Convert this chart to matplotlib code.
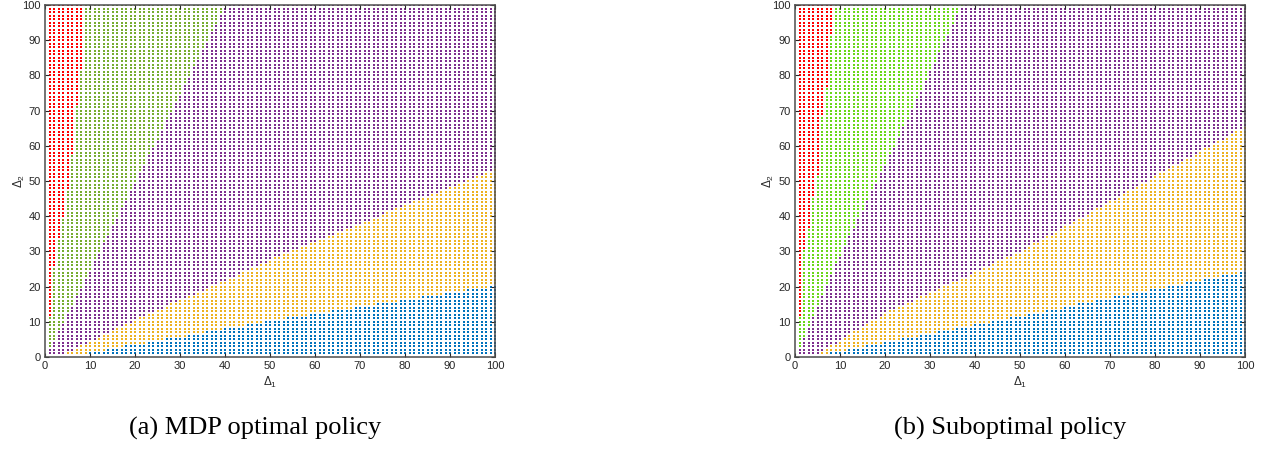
import numpy as np
import matplotlib.pyplot as plt

# --- DATA ---
# grid of states: Delta_1, Delta_2 = 1..100
D1_MAX = 100
D2_MAX = 100

# red region: for column d1 = 1..n, red when d2 >= threshold
red_a = [12, 26, 34, 40, 48, 58, 72, 82]
red_b = [12, 31, 37, 46, 52, 69, 77, 92]

# boundary knots (d1 -> d2): green above, purple between, yellow, blue below
green_a_x = [0, 12, 25, 40, 100]
green_a_y = [0, 30, 62, 100, 250]
yellow_a_x = [3, 20, 50, 100]
yellow_a_y = [0, 10.5, 27.5, 53.5]
blue_a_x = [5, 20, 50, 100]
blue_a_y = [0, 3.5, 10.3, 20.3]

green_b_x = [0, 10, 22, 37, 100]
green_b_y = [0, 29, 60, 100, 270]
yellow_b_x = [4, 20, 50, 100]
yellow_b_y = [0, 12.5, 30, 65.5]
blue_b_x = [4, 20, 50, 70, 100]
blue_b_y = [0, 4.2, 11.5, 17, 24.5]

captions = ['(a) MDP optimal policy', '(b) Suboptimal policy']

RED = '#FF0000'
GREEN_A = '#77AC30'
GREEN_B = '#6AD61A'
PURPLE = '#7E2F8E'
YELLOW = '#EDB120'
BLUE = '#0072BD'


def classify(red, gx, gy, yx, yy, bx, by):
    d1, d2 = np.meshgrid(np.arange(1, D1_MAX + 1), np.arange(1, D2_MAX + 1))
    d1 = d1.ravel()
    d2 = d2.ravel()
    lab = np.full(d1.shape, 4)  # blue
    lab[d2 >= np.interp(d1, bx, by, left=0)] = 3  # yellow
    lab[d2 >= np.interp(d1, yx, yy, left=0)] = 2  # purple
    lab[d2 >= np.interp(d1, gx, gy)] = 1  # green
    red_thr = np.full(d1.shape, 1e9)
    for i, t in enumerate(red):
        red_thr[d1 == i + 1] = t
    lab[d2 >= red_thr] = 0
    return d1, d2, lab


def draw_panel(ax, data, green_col):
    d1, d2, lab = data
    cols = [RED, green_col, PURPLE, YELLOW, BLUE]
    for k, c in enumerate(cols):
        m = lab == k
        ax.scatter(d1[m], d2[m], s=2.2, c=c, marker='s', linewidths=0)
    ax.set_xlim(0, 100)
    ax.set_ylim(0, 100)
    ax.set_xticks(np.arange(0, 101, 10))
    ax.set_yticks(np.arange(0, 101, 10))
    ax.tick_params(direction='in', top=True, right=True, length=3,
                   labelsize=8, colors='#262626', pad=3)
    for sp in ax.spines.values():
        sp.set_color('#4d4d4d')
        sp.set_linewidth(1.1)
    ax.set_xlabel(r'$\Delta_1$', fontsize=8.5, color='#262626', labelpad=3)
    ax.set_ylabel(r'$\Delta_2$', fontsize=8.5, color='#262626', labelpad=-3)


plt.rcParams['font.family'] = ['Liberation Sans', 'DejaVu Sans']
plt.rcParams['mathtext.fontset'] = 'custom'
plt.rcParams['mathtext.rm'] = 'Liberation Sans'
plt.rcParams['mathtext.it'] = 'Liberation Sans'

fig = plt.figure(figsize=(12.65, 4.5), dpi=100)
ax1 = fig.add_axes([45 / 1265, 93 / 450, 450 / 1265, 352 / 450])
ax2 = fig.add_axes([795 / 1265, 93 / 450, 450 / 1265, 352 / 450])

draw_panel(ax1, classify(red_a, green_a_x, green_a_y, yellow_a_x, yellow_a_y,
                         blue_a_x, blue_a_y), GREEN_A)
draw_panel(ax2, classify(red_b, green_b_x, green_b_y, yellow_b_x, yellow_b_y,
                         blue_b_x, blue_b_y), GREEN_B)

fig.text(255 / 1265, 1 - 428 / 450, captions[0], ha='center', va='center',
         fontsize=19, family='Liberation Serif')
fig.text(1010 / 1265, 1 - 428 / 450, captions[1], ha='center', va='center',
         fontsize=19, family='Liberation Serif')

fig.savefig('out.png', dpi=100)
